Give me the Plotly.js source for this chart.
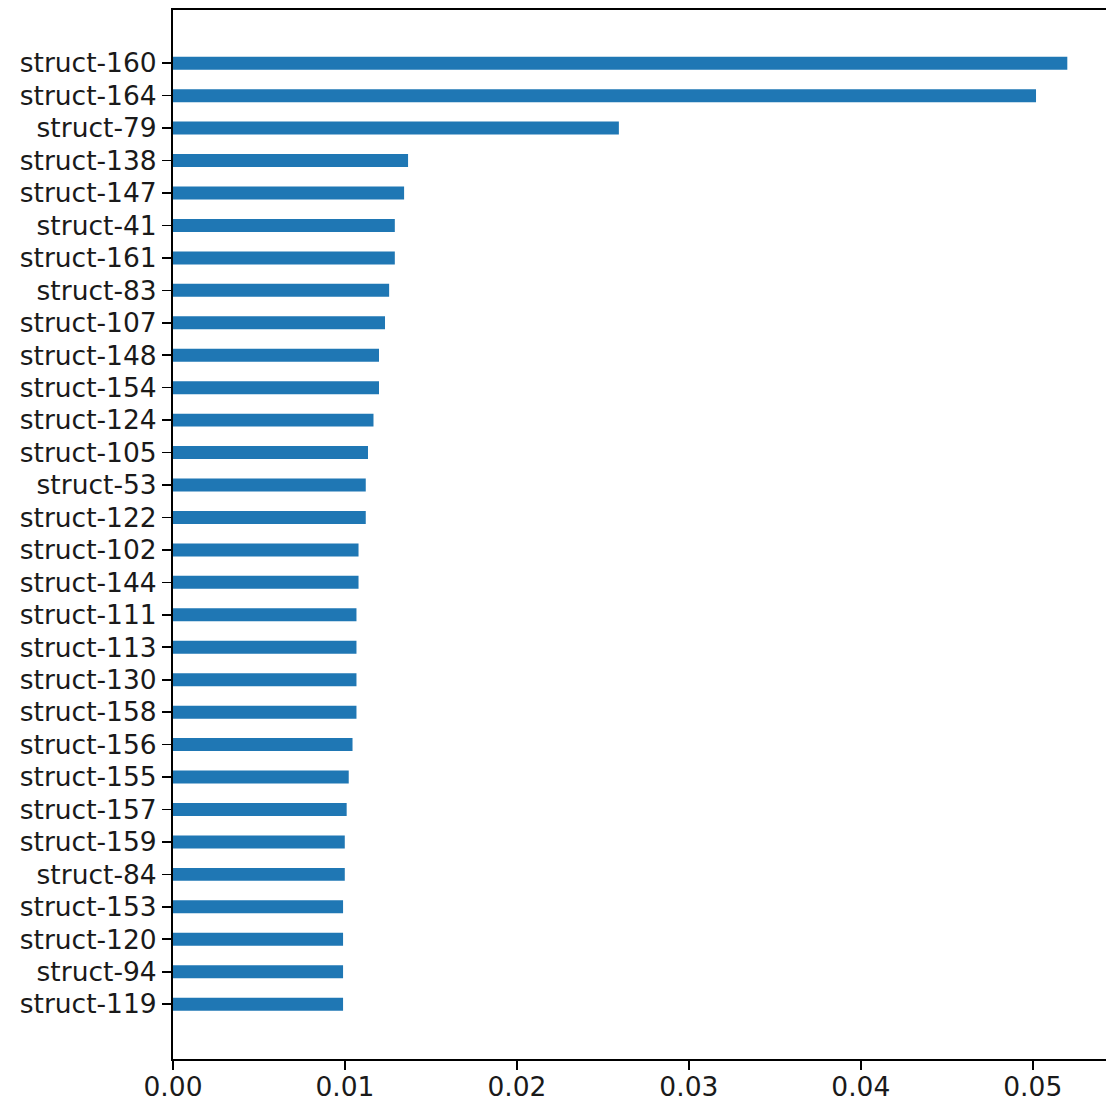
<!DOCTYPE html>
<html>
<head>
<meta charset="utf-8">
<script src="https://cdn.plot.ly/plotly-3.0.1.min.js"></script>
<style>html,body{margin:0;padding:0;background:#fff;}#chart{width:1106px;height:1104px;}</style>
</head>
<body>
<div id="chart"></div>
<script>
// Categories listed top to bottom as in the picture
const categories = [
  "struct-160","struct-164","struct-79","struct-138","struct-147","struct-41",
  "struct-161","struct-83","struct-107","struct-148","struct-154","struct-124",
  "struct-105","struct-53","struct-122","struct-102","struct-144","struct-111",
  "struct-113","struct-130","struct-158","struct-156","struct-155","struct-157",
  "struct-159","struct-84","struct-153","struct-120","struct-94","struct-119"
];
const values = [
  0.05201, 0.05019, 0.02593, 0.01367, 0.01344, 0.01290,
  0.01290, 0.01257, 0.01233, 0.01198, 0.01198, 0.01166,
  0.01134, 0.01121, 0.01121, 0.01079, 0.01079, 0.01067,
  0.01067, 0.01067, 0.01067, 0.01044, 0.01022, 0.01010,
  0.00999, 0.00999, 0.00989, 0.00989, 0.00989, 0.00989
];
const xTickVals = [0, 0.01, 0.02, 0.03, 0.04, 0.05];
const xTickText = ["0.00", "0.01", "0.02", "0.03", "0.04", "0.05"];

// bottom-to-top order for the plot
const yCats = categories.slice().reverse();
const xVals = values.slice().reverse();

const trace = {
  type: 'bar',
  orientation: 'h',
  y: yCats,
  x: xVals,
  width: 0.4,
  marker: {color: '#1f77b4', line: {width: 0}},
  hoverinfo: 'x+y'
};

const tickFont = {family: 'DejaVu Sans, sans-serif', size: 26.5, color: '#1a1a1a'};

const layout = {
  width: 1106,
  height: 1104,
  margin: {l: 173, r: 0, t: 10, b: 45},
  paper_bgcolor: '#ffffff',
  plot_bgcolor: '#ffffff',
  showlegend: false,
  font: tickFont,
  xaxis: {
    range: [0, 0.05426],
    tickvals: xTickVals,
    ticktext: xTickText,
    ticks: 'outside',
    ticklen: 9,
    tickwidth: 1.6,
    tickcolor: '#000',
    ticklabelstandoff: -6,
    showgrid: false,
    zeroline: false,
    showline: true,
    linecolor: '#000',
    linewidth: 2,
    mirror: true,
    tickfont: tickFont,
    fixedrange: true
  },
  yaxis: {
    type: 'category',
    categoryorder: 'array',
    categoryarray: yCats,
    range: [-1.69, 30.64],
    ticks: 'outside',
    ticklen: 9,
    tickwidth: 1.6,
    tickcolor: '#000',
    showgrid: false,
    zeroline: false,
    showline: true,
    linecolor: '#000',
    linewidth: 2,
    mirror: false,
    tickfont: tickFont,
    fixedrange: true
  }
};

Plotly.newPlot('chart', [trace], layout, {displayModeBar: false, staticPlot: true});
</script>
</body>
</html>
